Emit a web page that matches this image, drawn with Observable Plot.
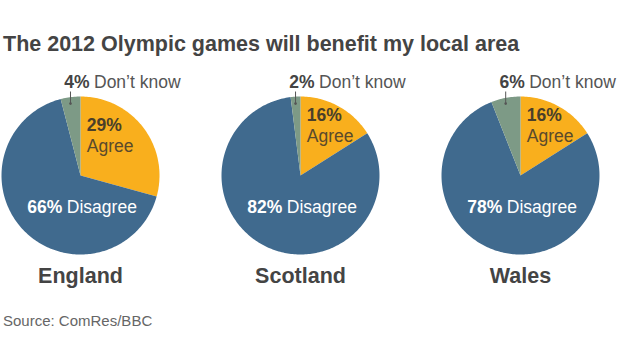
<!DOCTYPE html>
<html><head><meta charset="utf-8">
<script src="https://cdn.jsdelivr.net/npm/d3@7"></script>
<script src="https://cdn.jsdelivr.net/npm/@observablehq/plot@0.6"></script>
<style>
body{margin:0;background:#fff;font-family:Helvetica,Arial,"Liberation Sans",sans-serif;}
#title{font-weight:bold;font-size:21.5px;color:#444;margin:0;padding:32px 0 0 3px;line-height:24px;height:24px;white-space:nowrap}
#chart svg{display:block}
#source{font-size:15px;color:#666;padding-left:3px;line-height:18px;margin-top:16px}
</style></head>
<body>
<div id="title">The 2012 Olympic games will benefit my local area</div>
<div id="chart"></div>
<div id="source">Source: ComRes/BBC</div>
<script>
const countries = ["England", "Scotland", "Wales"];
const responses = ["Agree", "Disagree", "Don't know"];
const agree = [29, 16, 16];
const disagree = [66, 82, 78];
const dontKnow = [4, 2, 6];
const colors = ["#F9AF1D", "#406A8E", "#7D9A86"];

const pie = d3.pie().sort(null).startAngle(0).endAngle(2 * Math.PI);
const slices = [];   // polygon vertices
const arcs = [];     // one row per slice
countries.forEach((c, ci) => {
  const vals = [agree[ci], disagree[ci], dontKnow[ci]];
  pie(vals).forEach((a, ri) => {
    const mid = (a.startAngle + a.endAngle) / 2;
    arcs.push({country: c, response: responses[ri], value: vals[ri], mid});
    const key = c + "|" + responses[ri];
    slices.push({key, country: c, response: responses[ri], x: 0, y: 0});
    const n = Math.max(4, Math.ceil((a.endAngle - a.startAngle) / 0.02));
    for (let k = 0; k <= n; k++) {
      const t = a.startAngle + (a.endAngle - a.startAngle) * k / n;
      slices.push({key, country: c, response: responses[ri], x: Math.sin(t), y: Math.cos(t)});
    }
  });
});
const agreeArcs = arcs.filter(d => d.response === "Agree");
const disArcs = arcs.filter(d => d.response === "Disagree");
const dkArcs = arcs.filter(d => d.response === "Don't know");
const agreeY = d => 0.236 + 0.444 * Math.cos(d.mid);

const plot = Plot.plot({
  width: 624,
  height: 240,
  marginTop: 40,
  marginBottom: 42,
  marginLeft: 0,
  marginRight: 24,
  style: {fontFamily: "Helvetica, Arial, 'Liberation Sans', sans-serif", background: "#fff"},
  fx: {domain: countries, paddingInner: 0.282, paddingOuter: 0.0045, axis: null},
  x: {domain: [-1, 1], axis: null},
  y: {domain: [-1, 1], axis: null},
  color: {domain: responses, range: colors},
  marks: [
    Plot.line(slices, {fx: "country", x: "x", y: "y", z: "key", fill: "response", stroke: "none", curve: "linear"}),
    // Don't know leader
    Plot.link(dkArcs, {fx: "country", x1: d => Math.sin(d.mid), x2: d => Math.sin(d.mid), y1: 1.063, y2: 0.91, stroke: "#555", strokeWidth: 1}),
    Plot.dot(dkArcs, {fx: "country", x: d => Math.sin(d.mid), y: 0.91, r: 1.3, fill: "#555", stroke: "none"}),
    Plot.text(dkArcs, {fx: "country", x: d => Math.sin(d.mid), y: 1.18, dx: 19, text: d => d.value + "%", textAnchor: "end", fontWeight: "bold", fontSize: 17.5, fill: "#444"}),
    Plot.text(dkArcs, {fx: "country", x: d => Math.sin(d.mid), y: 1.18, dx: 23.5, text: d => d.response.replace("'", "\u2019"), textAnchor: "start", fontSize: 17.5, fill: "#555"}),
    // Agree
    Plot.text(agreeArcs, {fx: "country", x: 0.08, y: d => agreeY(d) + 0.135, text: d => d.value + "%", textAnchor: "start", fontWeight: "bold", fontSize: 17.5, fill: "#4a3f2a"}),
    Plot.text(agreeArcs, {fx: "country", x: 0.08, y: d => agreeY(d) - 0.135, text: "response", textAnchor: "start", fontSize: 17.5, fill: "#5a4a2c"}),
    // Disagree
    Plot.text(disArcs, {fx: "country", x: -0.23, y: -0.40, text: d => d.value + "%", textAnchor: "end", fontWeight: "bold", fontSize: 17.5, fill: "#fff"}),
    Plot.text(disArcs, {fx: "country", x: -0.23, y: -0.40, dx: 4.5, text: "response", textAnchor: "start", fontSize: 17.5, fill: "#fff"}),
    // Country names
    Plot.text(countries, {fx: d => d, x: 0, y: -1.27, text: d => d, fontWeight: "bold", fontSize: 21.5, fill: "#444"})
  ]
});
document.getElementById("chart").appendChild(plot);
</script>
</body></html>
